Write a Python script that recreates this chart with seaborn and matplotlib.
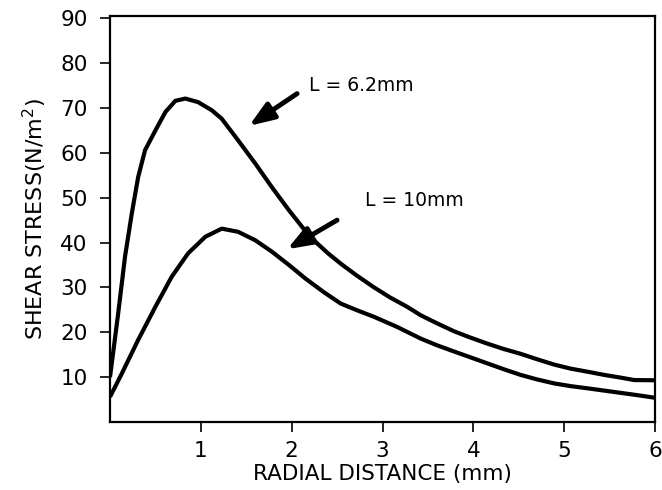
import matplotlib
matplotlib.use("Agg")
import matplotlib.pyplot as plt
import seaborn as sns
import pandas as pd

# L = 6.2 mm curve
x_62 = [0.0, 0.09, 0.165, 0.24, 0.31, 0.386, 0.50, 0.61, 0.72, 0.83, 0.97, 1.12, 1.23, 1.41, 1.60,
        1.78, 1.97, 2.15, 2.26, 2.40, 2.54, 2.72, 2.90, 3.08, 3.27, 3.42, 3.60, 3.79, 3.97, 4.15,
        4.33, 4.52, 4.70, 4.89, 5.07, 5.26, 5.44, 5.62, 5.77, 6.0]
y_62 = [10.0, 24.2, 36.8, 46.5, 54.6, 60.6, 65.0, 69.1, 71.6, 72.1, 71.3, 69.5, 67.6, 62.8, 57.6,
        52.4, 47.2, 42.6, 40.2, 37.6, 35.3, 32.6, 30.1, 27.8, 25.7, 23.8, 22.0, 20.2, 18.8, 17.5,
        16.3, 15.2, 14.0, 12.8, 11.9, 11.2, 10.5, 9.9, 9.35, 9.3]

# L = 10 mm curve
x_10 = [0.0, 0.13, 0.31, 0.50, 0.68, 0.86, 1.05, 1.23, 1.41, 1.60, 1.78, 1.97, 2.15, 2.35, 2.54,
        2.72, 2.90, 3.16, 3.42, 3.60, 3.79, 3.97, 4.15, 4.33, 4.52, 4.70, 4.89, 5.07, 5.26, 5.44,
        5.62, 5.80, 6.0]
y_10 = [5.6, 10.8, 18.3, 25.7, 32.4, 37.6, 41.3, 43.1, 42.4, 40.5, 38.0, 35.0, 32.0, 29.0, 26.4,
        24.9, 23.5, 21.2, 18.6, 17.1, 15.7, 14.4, 13.1, 11.8, 10.5, 9.5, 8.6, 8.0, 7.5, 7.0,
        6.5, 6.0, 5.4]

labels = ["L = 6.2mm", "L = 10mm"]
x_ticks = [1, 2, 3, 4, 5, 6]
y_ticks = [10, 20, 30, 40, 50, 60, 70, 80, 90]

df = pd.concat([
    pd.DataFrame({"x": x_62, "y": y_62, "curve": labels[0]}),
    pd.DataFrame({"x": x_10, "y": y_10, "curve": labels[1]}),
])

sns.set_theme(style="ticks")
plt.rcParams["font.family"] = ["DejaVu Sans"]
plt.rcParams["text.color"] = "black"
plt.rcParams["axes.labelcolor"] = "black"

fig = plt.figure(figsize=(6.62, 4.9), dpi=100)
ax = fig.add_axes([110 / 662, 1 - 422 / 490, 545 / 662, 406 / 490])

sns.lineplot(data=df, x="x", y="y", hue="curve", palette=["black", "black"],
             linewidth=3.0, legend=False, ax=ax, sort=False, estimator=None)
for ln in ax.lines:
    ln.set_solid_joinstyle("round")
    ln.set_solid_capstyle("butt")

ax.set_xlim(0, 6)
ax.set_ylim(0, 90.5)
ax.set_xticks(x_ticks)
ax.set_yticks(y_ticks)
ax.set_xticklabels([str(t) for t in x_ticks])
ax.set_yticklabels([str(t) for t in y_ticks])
ax.tick_params(axis="both", direction="out", length=7, width=1.2, colors="black",
               labelsize=15.5)
ax.tick_params(axis="y", pad=9)
ax.tick_params(axis="x", pad=7)
for s in ax.spines.values():
    s.set_visible(True)
    s.set_linewidth(1.6)
    s.set_color("black")

ax.set_xlabel("RADIAL DISTANCE (mm)", fontsize=15.5, labelpad=2)
ax.set_ylabel("SHEAR STRESS(N/m$^{2}$)", fontsize=16, labelpad=8)

arrowprops = dict(arrowstyle="-|>,head_length=0.75,head_width=0.28", color="black",
                  lw=3.5, shrinkA=0, shrinkB=0, mutation_scale=20)
ax.annotate("", xy=(1.53, 66.0), xytext=(2.06, 73.2), arrowprops=arrowprops)
ax.annotate("", xy=(1.95, 38.5), xytext=(2.50, 45.0), arrowprops=arrowprops)
ax.text(2.19, 75.0, labels[0], fontsize=13.5, ha="left", va="center")
ax.text(2.81, 49.4, labels[1], fontsize=13.5, ha="left", va="center")

fig.savefig("out.png", dpi=100)
